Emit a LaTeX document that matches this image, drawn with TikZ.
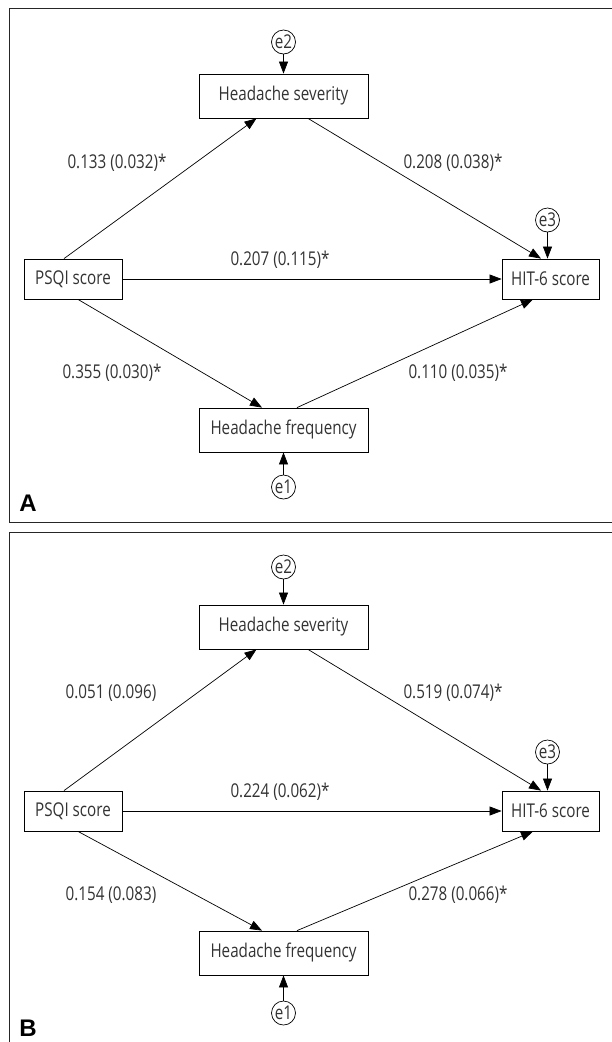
\documentclass[tikz,border=0pt]{standalone}
\usepackage{fontspec}
\setmainfont{Open Sans}[FakeStretch=0.8]
\newfontfamily\panelfont{Liberation Sans}
\usetikzlibrary{arrows.meta,positioning}

\begin{document}
\begin{tikzpicture}[
    x = 1pt, y = -1pt,
    var/.style = {rectangle, draw, line width=0.8pt, minimum height=40pt, inner sep=0pt, text=black!80, font=\fontsize{19}{21}\selectfont},
    err/.style = {circle, draw, line width=0.7pt, minimum size=24pt, inner sep=0pt, text=black!80, font=\fontsize{19}{21}\selectfont},
    link/.style = {-{Triangle[length=12pt, width=9pt]}, line width=0.7pt},
    coef/.style = {text=black!80, font=\fontsize{19}{21}\selectfont},
    frame/.style = {line width=1pt, black!85},
    tag/.style = {font=\panelfont\bfseries\fontsize{24}{24}\selectfont}
]
    \useasboundingbox (0,0) rectangle (611,1042);

    % Panel frames
    \draw[frame] (9,8) rectangle (640,522);
    \draw[frame] (640,532) -- (9,532) -- (9,1060);

    % Panel A: variables
    \node[var, minimum width=169pt, minimum height=44pt] (sevA) at (283.5,96) {Headache severity};
    \node[var, minimum width=98pt] (psqiA) at (73,279) {PSQI score};
    \node[var, minimum width=97pt] (hitA) at (550.5,279) {HIT-6 score};
    \node[var, minimum width=169pt, minimum height=44pt] (freqA) at (283.5,430) {Headache frequency};

    % Panel A: errors
    \node[err] (e2A) at (283.5,42) {e2};
    \node[err] (e3A) at (547.5,220) {e3};
    \node[err] (e1A) at (283.5,487) {e1};

    % Panel A: paths
    \draw[link] (e2A) -- (sevA);
    \draw[link] (e3A) -- (e3A |- hitA.north);
    \draw[link] (e1A) -- (freqA);
    \draw[link] ([xshift=-9pt]psqiA.north) -- ([xshift=-27pt]sevA.south);
    \draw[link] ([xshift=24.5pt]sevA.south) -- ([xshift=-9.5pt]hitA.north);
    \draw[link] (psqiA) -- (hitA);
    \draw[link] ([xshift=5pt]psqiA.south) -- ([xshift=-21.5pt]freqA.north);
    \draw[link] ([xshift=13.5pt]freqA.north) -- ([xshift=-17.5pt]hitA.south);

    % Panel A: coefficients
    \node[coef] (a1) at (117,163) {0.133 (0.032)*};
    \node[coef] (a2) at (453,163) {0.208 (0.038)*};
    \node[coef] (a3) at (280,260) {0.207 (0.115)*};
    \node[coef] (a4) at (112,373) {0.355 (0.030)*};
    \node[coef] (a5) at (458,373) {0.110 (0.035)*};
    \node[tag] (tagA) at (28,503) {A};

    % Panel B: variables
    \node[var, minimum width=169pt, minimum height=44pt] (sevB) at (283.5,627) {Headache severity};
    \node[var, minimum width=98pt] (psqiB) at (73,811) {PSQI score};
    \node[var, minimum width=97pt] (hitB) at (550.5,811) {HIT-6 score};
    \node[var, minimum width=169pt, minimum height=44pt] (freqB) at (283.5,953) {Headache frequency};

    % Panel B: errors
    \node[err] (e2B) at (283.5,567) {e2};
    \node[err] (e3B) at (547.5,752) {e3};
    \node[err] (e1B) at (283.5,1013) {e1};

    % Panel B: paths
    \draw[link] (e2B) -- (sevB);
    \draw[link] (e3B) -- (e3B |- hitB.north);
    \draw[link] (e1B) -- (freqB);
    \draw[link] ([xshift=-9pt]psqiB.north) -- ([xshift=-27pt]sevB.south);
    \draw[link] ([xshift=24.5pt]sevB.south) -- ([xshift=-9.5pt]hitB.north);
    \draw[link] (psqiB) -- (hitB);
    \draw[link] ([xshift=5pt]psqiB.south) -- ([xshift=-21.5pt]freqB.north);
    \draw[link] ([xshift=13.5pt]freqB.north) -- ([xshift=-17.5pt]hitB.south);

    % Panel B: coefficients
    \node[coef] (b1) at (111,693) {0.051 (0.096)};
    \node[coef] (b2) at (453,693) {0.519 (0.074)*};
    \node[coef] (b3) at (280,792) {0.224 (0.062)*};
    \node[coef] (b4) at (111,895) {0.154 (0.083)};
    \node[coef] (b5) at (458,895) {0.278 (0.066)*};
    \node[tag] (tagB) at (28,1028) {B};
\end{tikzpicture}
\end{document}
